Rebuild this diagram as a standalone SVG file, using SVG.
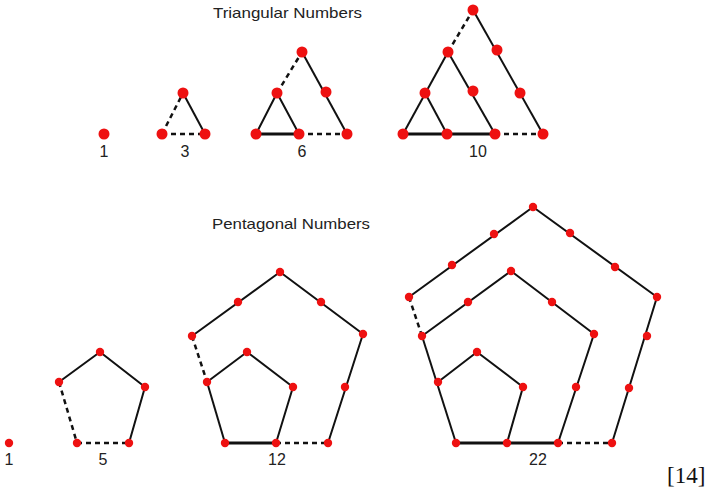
<svg xmlns="http://www.w3.org/2000/svg" width="712" height="490" viewBox="0 0 712 490">
<style>
.bg{fill:#ffffff}
.s{fill:none;stroke:#111;stroke-width:2;stroke-linejoin:round}
.b{fill:none;stroke:#111;stroke-width:3}
.d{fill:none;stroke:#111;stroke-width:2.5;stroke-dasharray:5 4}
.t{fill:#ee1111}
.p{fill:#ee1111}
.lab{font-family:"Liberation Sans",Arial,sans-serif;font-size:16px;fill:#222;text-anchor:middle}
.ttl{font-family:"Liberation Sans",Arial,sans-serif;font-size:15px;fill:#222}
.ref{font-family:"Liberation Serif","DejaVu Serif",serif;font-size:23px;fill:#111}
</style>
<rect class="bg" x="0" y="0" width="712" height="490"/>
<text class="ttl" x="213" y="18" textLength="149" lengthAdjust="spacingAndGlyphs">Triangular Numbers</text>
<text class="ttl" x="212" y="229" textLength="158" lengthAdjust="spacingAndGlyphs">Pentagonal Numbers</text>

<g id="connectors">
  <path class="d" d="M162,134 L183,93"/>
  <path class="s" d="M183,93 L205,134"/>
  <path class="d" d="M162,134 L205,134"/>
  <path class="s" d="M256,134 L277,93 L299,134"/>
  <path class="b" d="M256,134 L299,134"/>
  <path class="d" d="M299,134 L347,134"/>
  <path class="d" d="M277,93 L302,52"/>
  <path class="s" d="M302,52 L347,134"/>
  <path class="b" d="M403,134 L495,134"/>
  <path class="d" d="M495,134 L543,134"/>
  <path class="s" d="M403,134 L448,52"/>
  <path class="d" d="M448,52 L473,10"/>
  <path class="s" d="M473,10 L543,134"/>
  <path class="s" d="M425,93 L447,134"/>
  <path class="s" d="M448,52 L495,134"/>
  <path class="s" d="M59,382 L100,352 L145,387 L129,443"/>
  <path class="d" d="M59,382 L77,443"/>
  <path class="d" d="M77,443 L129,443"/>
  <path class="s" d="M192,336 L280,272 L363,334 L328,443"/>
  <path class="d" d="M276,443 L328,443"/>
  <path class="d" d="M192,336 L207,382"/>
  <path class="s" d="M207,382 L247,352 L293,387 L276,443"/>
  <path class="b" d="M225,443 L276,443"/>
  <path class="s" d="M207,382 L225,443"/>
  <path class="s" d="M409,297 L533,207 L657,297 L612,443"/>
  <path class="d" d="M558,443 L612,443"/>
  <path class="d" d="M409,297 L422,336"/>
  <path class="s" d="M422,336 L511,271 L594,334 L558,443"/>
  <path class="s" d="M422,336 L456,443"/>
  <path class="s" d="M438,382 L477,352 L523,387 L507,443"/>
  <path class="b" d="M456,443 L558,443"/>
</g>

<g id="t1">
  <circle class="t" cx="104" cy="134" r="5.5"/>
  <text class="lab" x="104" y="157">1</text>
</g>
<g id="t3">
  <circle class="t" cx="162" cy="134" r="5.5"/>
  <circle class="t" cx="205" cy="134" r="5.5"/>
  <circle class="t" cx="183" cy="93" r="5.5"/>
  <text class="lab" x="185" y="157">3</text>
</g>
<g id="t6">
  <circle class="t" cx="256" cy="134" r="5.5"/>
  <circle class="t" cx="299" cy="134" r="5.5"/>
  <circle class="t" cx="347" cy="134" r="5.5"/>
  <circle class="t" cx="277" cy="93" r="5.5"/>
  <circle class="t" cx="326" cy="92" r="5.5"/>
  <circle class="t" cx="302" cy="52" r="5.5"/>
  <text class="lab" x="302" y="157">6</text>
</g>
<g id="t10">
  <circle class="t" cx="403" cy="134" r="5.5"/>
  <circle class="t" cx="447" cy="134" r="5.5"/>
  <circle class="t" cx="495" cy="134" r="5.5"/>
  <circle class="t" cx="543" cy="134" r="5.5"/>
  <circle class="t" cx="425" cy="93" r="5.5"/>
  <circle class="t" cx="473" cy="91" r="5.5"/>
  <circle class="t" cx="520" cy="93" r="5.5"/>
  <circle class="t" cx="448" cy="52" r="5.5"/>
  <circle class="t" cx="497" cy="50" r="5.5"/>
  <circle class="t" cx="473" cy="10" r="5.5"/>
  <text class="lab" x="478" y="157">10</text>
</g>

<g id="p1">
  <circle class="p" cx="9" cy="443" r="4.2"/>
  <text class="lab" x="9" y="465">1</text>
</g>
<g id="p5">
  <circle class="p" cx="100" cy="352" r="4.2"/>
  <circle class="p" cx="59" cy="382" r="4.2"/>
  <circle class="p" cx="145" cy="387" r="4.2"/>
  <circle class="p" cx="77" cy="443" r="4.2"/>
  <circle class="p" cx="129" cy="443" r="4.2"/>
  <text class="lab" x="103" y="465">5</text>
</g>
<g id="p12">
  <circle class="p" cx="280" cy="272" r="4.2"/>
  <circle class="p" cx="238" cy="302" r="4.2"/>
  <circle class="p" cx="321" cy="302" r="4.2"/>
  <circle class="p" cx="192" cy="336" r="4.2"/>
  <circle class="p" cx="363" cy="334" r="4.2"/>
  <circle class="p" cx="247" cy="352" r="4.2"/>
  <circle class="p" cx="207" cy="382" r="4.2"/>
  <circle class="p" cx="293" cy="387" r="4.2"/>
  <circle class="p" cx="345" cy="387" r="4.2"/>
  <circle class="p" cx="225" cy="443" r="4.2"/>
  <circle class="p" cx="276" cy="443" r="4.2"/>
  <circle class="p" cx="328" cy="443" r="4.2"/>
  <text class="lab" x="277" y="465">12</text>
</g>
<g id="p22">
  <circle class="p" cx="533" cy="207" r="4.2"/>
  <circle class="p" cx="494" cy="234" r="4.2"/>
  <circle class="p" cx="570" cy="233" r="4.2"/>
  <circle class="p" cx="452" cy="265" r="4.2"/>
  <circle class="p" cx="615" cy="267" r="4.2"/>
  <circle class="p" cx="409" cy="297" r="4.2"/>
  <circle class="p" cx="657" cy="297" r="4.2"/>
  <circle class="p" cx="511" cy="271" r="4.2"/>
  <circle class="p" cx="468" cy="302" r="4.2"/>
  <circle class="p" cx="552" cy="302" r="4.2"/>
  <circle class="p" cx="422" cy="336" r="4.2"/>
  <circle class="p" cx="594" cy="334" r="4.2"/>
  <circle class="p" cx="647" cy="336" r="4.2"/>
  <circle class="p" cx="477" cy="352" r="4.2"/>
  <circle class="p" cx="438" cy="382" r="4.2"/>
  <circle class="p" cx="523" cy="387" r="4.2"/>
  <circle class="p" cx="576" cy="387" r="4.2"/>
  <circle class="p" cx="629" cy="388" r="4.2"/>
  <circle class="p" cx="456" cy="443" r="4.2"/>
  <circle class="p" cx="507" cy="443" r="4.2"/>
  <circle class="p" cx="558" cy="443" r="4.2"/>
  <circle class="p" cx="612" cy="443" r="4.2"/>
  <text class="lab" x="538" y="465">22</text>
</g>
<text class="ref" x="667" y="483">[14]</text>
</svg>
